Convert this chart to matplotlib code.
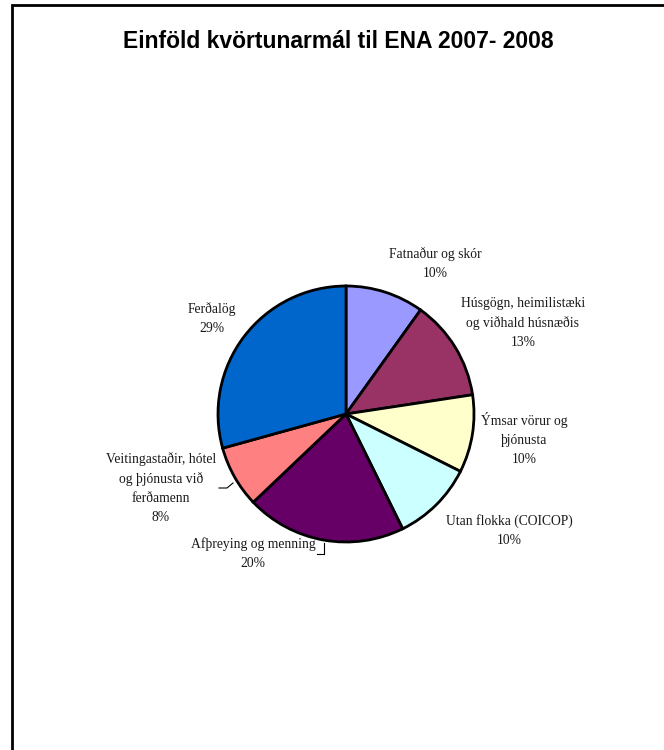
import matplotlib.pyplot as plt

# kvörtunarmál eftir flokkum, hlutföll lesin af myndinni
categories = [
    "Fatnaður og skór",
    "Húsgögn, heimilistæki\nog viðhald húsnæðis",
    "Ýmsar vörur og\nþjónusta",
    "Utan flokka (COICOP)",
    "Afþreying og menning",
    "Veitingastaðir, hótel\nog þjónusta við\nferðamenn",
    "Ferðalög",
]
shares = [9.9, 12.7, 9.8, 10.3, 20.2, 7.8, 29.3]
colors = ["#9999FF", "#993366", "#FFFFCC", "#CCFFFF", "#660066", "#FF8080", "#0066CC"]

# label anchors in pixel coords (x, y from top)
label_pos = [(435, 264), (523, 323), (524, 439), (509, 531),
             (253, 554), (161, 488), (212, 319)]

W, H = 664, 750
fig = plt.figure(figsize=(W / 100, H / 100), dpi=100)
ax = fig.add_axes([0, 0, 1, 1])

cx, cy, r = 346, H - 414, 128
ax.pie(shares, colors=colors, startangle=90, counterclock=False,
       center=(cx, cy), radius=r,
       wedgeprops=dict(edgecolor="black", linewidth=2))
ax.set_xlim(0, W)
ax.set_ylim(0, H)
ax.set_aspect("equal")
ax.axis("off")

total = sum(shares)
for name, val, (x, y) in zip(categories, shares, label_pos):
    pct = round(val / total * 100)
    ax.text(x, H - y, f"{name}\n{pct}%", ha="center", va="center",
            family="Liberation Serif", fontsize=9.8, linespacing=1.6,
            color="#1a1a1a")

# leader lines
ax.plot([219, 227, 233], [H - 488, H - 488, H - 483], color="black", lw=0.8)
ax.plot([317, 324, 324], [H - 554, H - 554, H - 543], color="black", lw=0.8)

ax.text(338, H - 42, "Einföld kvörtunarmál til ENA 2007- 2008",
        ha="center", va="center", family="Liberation Sans",
        fontweight="bold", fontsize=16.5)

# frame (right and bottom edges fall outside the picture)
ax.plot([12, 12, W + 5], [-5, H - 5, H - 5], color="black", lw=2,
        solid_joinstyle="miter", clip_on=False)

fig.savefig("out.png", dpi=100)
